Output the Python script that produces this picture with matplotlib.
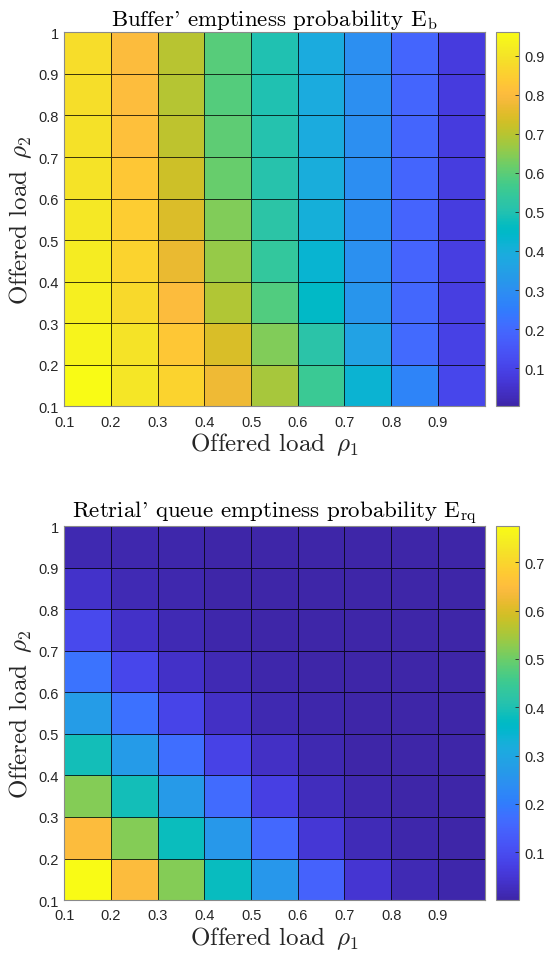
import numpy as np
import matplotlib
matplotlib.use('Agg')
import matplotlib.pyplot as plt
from matplotlib.colors import LinearSegmentedColormap

# parula (MATLAB default colormap), 64 entries
parula_rgb = [
    [0.2422, 0.1504, 0.6603], [0.2504, 0.1650, 0.7076], [0.2578, 0.1818, 0.7511], [0.2647, 0.1978, 0.7952],
    [0.2706, 0.2147, 0.8364], [0.2751, 0.2342, 0.8710], [0.2783, 0.2559, 0.8991], [0.2803, 0.2782, 0.9221],
    [0.2813, 0.3006, 0.9414], [0.2810, 0.3228, 0.9579], [0.2795, 0.3447, 0.9717], [0.2760, 0.3667, 0.9829],
    [0.2699, 0.3892, 0.9906], [0.2602, 0.4123, 0.9952], [0.2440, 0.4358, 0.9988], [0.2206, 0.4603, 0.9973],
    [0.1963, 0.4847, 0.9892], [0.1834, 0.5074, 0.9798], [0.1786, 0.5289, 0.9682], [0.1764, 0.5499, 0.9520],
    [0.1687, 0.5703, 0.9359], [0.1540, 0.5902, 0.9218], [0.1460, 0.6091, 0.9079], [0.1380, 0.6276, 0.8973],
    [0.1248, 0.6459, 0.8883], [0.1113, 0.6635, 0.8763], [0.0952, 0.6798, 0.8598], [0.0689, 0.6948, 0.8394],
    [0.0297, 0.7082, 0.8163], [0.0036, 0.7203, 0.7917], [0.0067, 0.7312, 0.7660], [0.0433, 0.7411, 0.7394],
    [0.0964, 0.7500, 0.7120], [0.1408, 0.7584, 0.6842], [0.1717, 0.7670, 0.6554], [0.1938, 0.7758, 0.6251],
    [0.2161, 0.7843, 0.5923], [0.2470, 0.7918, 0.5567], [0.2906, 0.7973, 0.5188], [0.3406, 0.8008, 0.4789],
    [0.3909, 0.8029, 0.4354], [0.4456, 0.8024, 0.3909], [0.5044, 0.7993, 0.3480], [0.5616, 0.7942, 0.3045],
    [0.6174, 0.7876, 0.2612], [0.6720, 0.7793, 0.2227], [0.7242, 0.7698, 0.1910], [0.7738, 0.7598, 0.1646],
    [0.8203, 0.7498, 0.1535], [0.8634, 0.7406, 0.1596], [0.9035, 0.7330, 0.1774], [0.9393, 0.7288, 0.2100],
    [0.9728, 0.7298, 0.2394], [0.9956, 0.7434, 0.2371], [0.9970, 0.7659, 0.2199], [0.9952, 0.7893, 0.2028],
    [0.9892, 0.8136, 0.1885], [0.9786, 0.8386, 0.1766], [0.9676, 0.8639, 0.1643], [0.9610, 0.8890, 0.1537],
    [0.9597, 0.9135, 0.1423], [0.9628, 0.9373, 0.1265], [0.9691, 0.9606, 0.1064], [0.9769, 0.9839, 0.0805]]
parula = LinearSegmentedColormap.from_list('parula', parula_rgb, N=256)

rho1 = [0.1, 0.2, 0.3, 0.4, 0.5, 0.6, 0.7, 0.8, 0.9, 1.0]
rho2 = [0.1, 0.2, 0.3, 0.4, 0.5, 0.6, 0.7, 0.8, 0.9, 1.0]

# rows: rho2 = 0.1 ... 0.9, columns: rho1 = 0.1 ... 0.9
eb = [
    [0.960, 0.907, 0.859, 0.773, 0.682, 0.553, 0.424, 0.270, 0.107],
    [0.941, 0.898, 0.831, 0.740, 0.639, 0.515, 0.361, 0.203, 0.093],
    [0.927, 0.874, 0.802, 0.692, 0.586, 0.452, 0.318, 0.194, 0.088],
    [0.920, 0.859, 0.768, 0.663, 0.538, 0.428, 0.304, 0.189, 0.085],
    [0.910, 0.845, 0.744, 0.639, 0.519, 0.404, 0.297, 0.188, 0.083],
    [0.900, 0.831, 0.725, 0.615, 0.510, 0.395, 0.294, 0.190, 0.081],
    [0.893, 0.814, 0.706, 0.601, 0.505, 0.390, 0.298, 0.192, 0.080],
    [0.888, 0.805, 0.697, 0.591, 0.498, 0.390, 0.299, 0.192, 0.079],
    [0.883, 0.800, 0.701, 0.596, 0.496, 0.390, 0.299, 0.192, 0.078]]
eb_clim = [0.002, 0.960]

erq = [
    [0.775, 0.648, 0.520, 0.376, 0.259, 0.148, 0.047, 0.015, 0.007],
    [0.648, 0.520, 0.380, 0.264, 0.160, 0.051, 0.018, 0.007, 0.003],
    [0.520, 0.388, 0.268, 0.167, 0.071, 0.024, 0.009, 0.003, 0.002],
    [0.388, 0.272, 0.171, 0.078, 0.032, 0.011, 0.004, 0.002, 0.001],
    [0.275, 0.179, 0.082, 0.034, 0.013, 0.005, 0.002, 0.001, 0.001],
    [0.181, 0.086, 0.036, 0.015, 0.006, 0.003, 0.002, 0.001, 0.001],
    [0.094, 0.036, 0.016, 0.006, 0.003, 0.002, 0.001, 0.001, 0.001],
    [0.038, 0.016, 0.009, 0.003, 0.002, 0.001, 0.001, 0.001, 0.001],
    [0.013, 0.009, 0.005, 0.002, 0.001, 0.001, 0.001, 0.001, 0.001]]
erq_clim = [0.001, 0.775]

xtick_vals = [0.1, 0.2, 0.3, 0.4, 0.5, 0.6, 0.7, 0.8, 0.9]
xtick_labels = ['0.1', '0.2', '0.3', '0.4', '0.5', '0.6', '0.7', '0.8', '0.9']
ytick_vals = [0.1, 0.2, 0.3, 0.4, 0.5, 0.6, 0.7, 0.8, 0.9, 1.0]
ytick_labels = ['0.1', '0.2', '0.3', '0.4', '0.5', '0.6', '0.7', '0.8', '0.9', '1']
eb_cticks = [0.1, 0.2, 0.3, 0.4, 0.5, 0.6, 0.7, 0.8, 0.9]
erq_cticks = [0.1, 0.2, 0.3, 0.4, 0.5, 0.6, 0.7]

titles = ["Buffer' emptiness probability $\\mathrm{E_b}$",
          "Retrial' queue emptiness probability $\\mathrm{E_{rq}}$"]
xlab = "Offered load $\\,\\rho_1$"
ylab = "Offered load $\\,\\rho_2$"

plt.rcParams['mathtext.fontset'] = 'cm'
plt.rcParams['font.family'] = ['Liberation Sans', 'DejaVu Sans']
serif = ['cmr10', 'DejaVu Serif']
tcol = '#262626'

fig = plt.figure(figsize=(5.45, 9.54), dpi=100)

panels = [(eb, eb_clim, eb_cticks, 0.573), (erq, erq_clim, erq_cticks, 0.0555)]
for k, (vals, clim, cticks, bot) in enumerate(panels):
    ax = fig.add_axes([0.118, bot, 0.771, 0.392])
    cax = fig.add_axes([0.911, bot, 0.0415, 0.392])
    X, Y = np.meshgrid(rho1, rho2)
    mesh = ax.pcolormesh(X, Y, np.array(vals), cmap=parula, vmin=clim[0], vmax=clim[1],
                         shading='flat', edgecolors=(0, 0, 0, 0.75), linewidth=0.6)
    ax.set_xlim(0.1, 1.0)
    ax.set_ylim(0.1, 1.0)
    ax.set_xticks(xtick_vals)
    ax.set_xticklabels(xtick_labels)
    ax.set_yticks(ytick_vals)
    ax.set_yticklabels(ytick_labels)
    ax.tick_params(direction='in', length=0, labelsize=10.5, colors=tcol)
    ax.tick_params(axis='x', pad=6)
    ax.tick_params(axis='y', pad=4)
    for s in ax.spines.values():
        s.set_color('#8a8a8a')
        s.set_linewidth(0.8)
    ax.set_title(titles[k], family=serif, fontsize=16.5, color='k', pad=5)
    ax.set_xlabel(xlab, family=serif, fontsize=18, color=tcol, labelpad=1)
    ax.set_ylabel(ylab, family=serif, fontsize=18, color=tcol, labelpad=3)

    cb = fig.colorbar(mesh, cax=cax, ticks=cticks)
    cb.ax.tick_params(direction='in', length=3, labelsize=10.5, colors=tcol, width=0.6)
    cb.ax.set_yticklabels([('%.1f' % t) for t in cticks])
    cb.outline.set_edgecolor('#8a8a8a')
    cb.outline.set_linewidth(0.8)

fig.savefig('out.png', dpi=100)
